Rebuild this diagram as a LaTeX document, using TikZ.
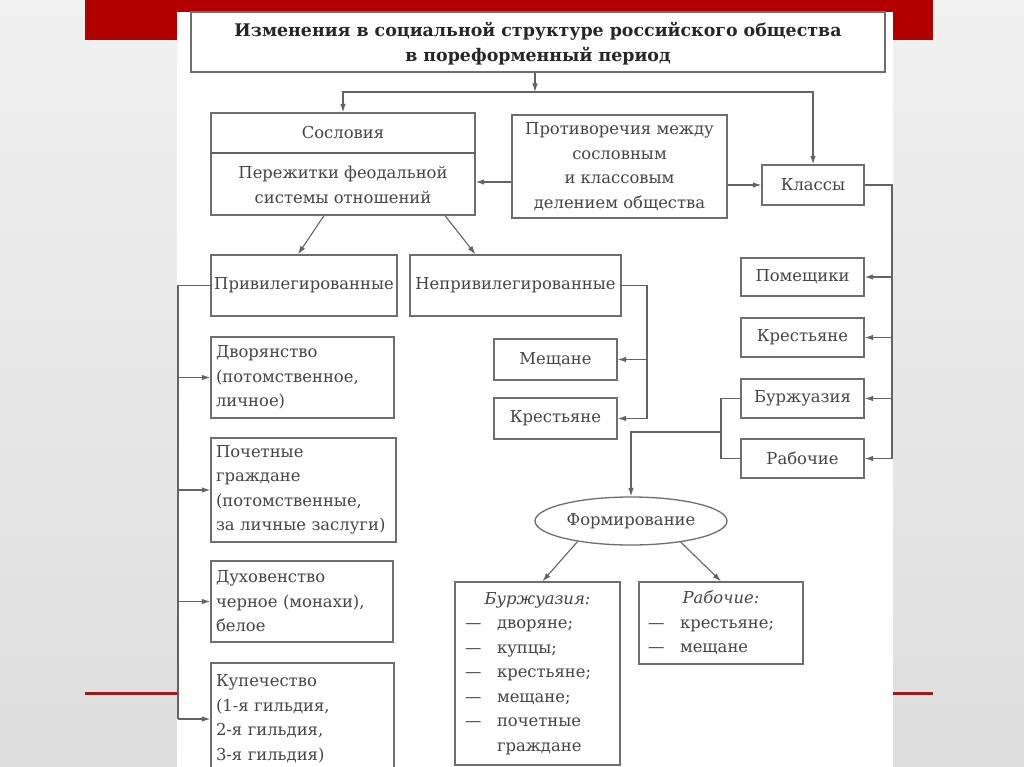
\documentclass[tikz,border=0pt]{standalone}
\usepackage{fontspec}
\setmainfont{DejaVu Serif}
\usetikzlibrary{arrows.meta,shapes,positioning}
\definecolor{slidebg}{HTML}{DEDEDE}
\definecolor{slidebgtop}{HTML}{F0F0F0}
\definecolor{barred}{HTML}{B20000}
\definecolor{rulered}{HTML}{9C1C1C}
\definecolor{boxgray}{HTML}{6E6E6E}
\definecolor{txtgray}{HTML}{454545}
\newcommand{\dashitem}[1]{\makebox[32pt][l]{—}#1}
\tikzset{
    txt/.style={text=txtgray, font=\fontsize{16.4}{24.5}\selectfont},
    box/.style={txt, draw=boxgray, line width=1.3pt, fill=white, inner sep=0pt},
    lbox/.style={box, align=left, inner xsep=5pt},
    oval/.style={box, ellipse},
    conn/.style={draw=boxgray!90!black, line width=1.1pt},
    arrow/.style={conn, -{Latex[length=8.5pt,width=5.5pt]}},
}

\begin{document}
\begin{tikzpicture}[x=1pt, y=-1pt]
\useasboundingbox (0,0) rectangle (1024,767);
% slide
\shade[top color=slidebgtop, bottom color=slidebg] (0,0) rectangle (1024,767);
\fill[barred] (85,0) rectangle (933,40);
\fill[white] (177,12) rectangle (893,767);
\fill[rulered] (85,691.5) rectangle (177,694.5);
\fill[rulered] (893,691.5) rectangle (933,694.5);

% top
\node[box, minimum width=694, minimum height=60, align=center, text=black!85,
      font=\fontsize{17.4}{25}\selectfont\bfseries] (title) at (538,42)
      {\rule{0pt}{17pt}Изменения в социальной структуре российского общества\\в пореформенный период};
\node[box, minimum width=264, minimum height=102] (sosl) at (343,164) {};
\node[txt] (soslhead) at (343,133) {Сословия};
\node[txt, align=center] (sosltext) at (343,185) {Пережитки феодальной\\системы отношений};
\draw[conn] (sosl.west |- 0,153) -- (sosl.east |- 0,153);
\node[box, minimum width=215, minimum height=103, align=center] (protiv) at (619.5,166.5)
      {Противоречия между\\сословным\\и классовым\\делением общества};
\node[box, minimum width=102, minimum height=40] (klassy) at (813,185) {Классы};

% classes
\node[box, minimum width=123, minimum height=38] (pomesh) at (802.5,277) {Помещики};
\node[box, minimum width=123, minimum height=39] (krestB) at (802.5,337.5) {Крестьяне};
\node[box, minimum width=123, minimum height=39] (burzh) at (802.5,398.5) {Буржуазия};
\node[box, minimum width=123, minimum height=39] (rab) at (802.5,458.5) {Рабочие};

% estates
\node[box, minimum width=186, minimum height=61] (priv) at (304,285.5) {Привилегированные};
\node[box, minimum width=211, minimum height=61] (nepriv) at (515.5,285.5) {Непривилегированные};
\node[box, minimum width=123, minimum height=41] (meshch) at (555.5,359.5) {Мещане};
\node[box, minimum width=123, minimum height=41] (krestA) at (555.5,418.5) {Крестьяне};
\node[lbox, text width=173, minimum height=81] (dvor) at (302.5,377.5)
      {Дворянство\\(потомственное,\\личное)};
\node[lbox, text width=175, minimum height=104] (poch) at (303.5,490)
      {Почетные\\граждане\\(потомственные,\\за личные заслуги)};
\node[lbox, text width=172, minimum height=81] (duh) at (302,601.5)
      {Духовенство\\черное (монахи),\\белое};
\node[lbox, text width=173, minimum height=112] (kup) at (302.5,719)
      {Купечество\\(1-я гильдия,\\2-я гильдия,\\3-я гильдия)};

% formation
\node[oval, minimum width=192, minimum height=48] (form) at (631,521) {Формирование};
\node[lbox, inner xsep=10pt, text width=145, minimum height=183] (burzhF) at (537.5,673.5)
      {\hfill\textit{Буржуазия:}\hfill\null\\
       \dashitem{дворяне;}\\\dashitem{купцы;}\\\dashitem{крестьяне;}\\
       \dashitem{мещане;}\\\dashitem{почетные}\\\hspace*{32pt}граждане};
\node[lbox, inner xsep=9pt, text width=146, minimum height=82] (rabF) at (721,623)
      {\hfill\textit{Рабочие:}\hfill\null\\
       \dashitem{крестьяне;}\\\dashitem{мещане}};

% connectors
\coordinate (split) at (535,92);
\draw[arrow] (title.south -| split) -- (split);
\draw[arrow] (split) -| (sosl.north);
\draw[arrow] (split) -| (klassy.north);
\draw[arrow] (protiv.west |- 0,182) -- (sosl.east |- 0,182);
\draw[arrow] (protiv.east |- klassy) -- (klassy.west);

\coordinate (rbus) at (892,185);
\draw[conn] (klassy.east) -- (rbus) -- (rbus |- rab.east);
\foreach \n in {pomesh,krestB,burzh,rab}
    \draw[arrow] (rbus |- \n.east) -- (\n.east);

\draw[arrow] ([xshift=-19pt]sosl.south) -- ([xshift=-6pt]priv.north);
\draw[arrow] ([xshift=102pt]sosl.south) -- ([xshift=-40pt]nepriv.north);

\coordinate (lbus) at (178,285.5);
\draw[conn] (priv.west) -- (lbus) -- (lbus |- kup.west);
\foreach \n in {dvor,poch,duh,kup}
    \draw[arrow] (lbus |- \n.west) -- (\n.west);

\coordinate (nbus) at (647,285.5);
\draw[conn] (nepriv.east) -- (nbus) -- (nbus |- krestA.east);
\foreach \n in {meshch,krestA}
    \draw[arrow] (nbus |- \n.east) -- (\n.east);

\coordinate (bbus) at (721,432);
\draw[conn] (burzh.west) -| (bbus) |- (rab.west);
\draw[arrow] (bbus) -| (form.north);
\draw[arrow] (form.201) -- ([xshift=5pt]burzhF.north);
\draw[arrow] (form.337) -- (rabF.north);
\end{tikzpicture}
\end{document}
